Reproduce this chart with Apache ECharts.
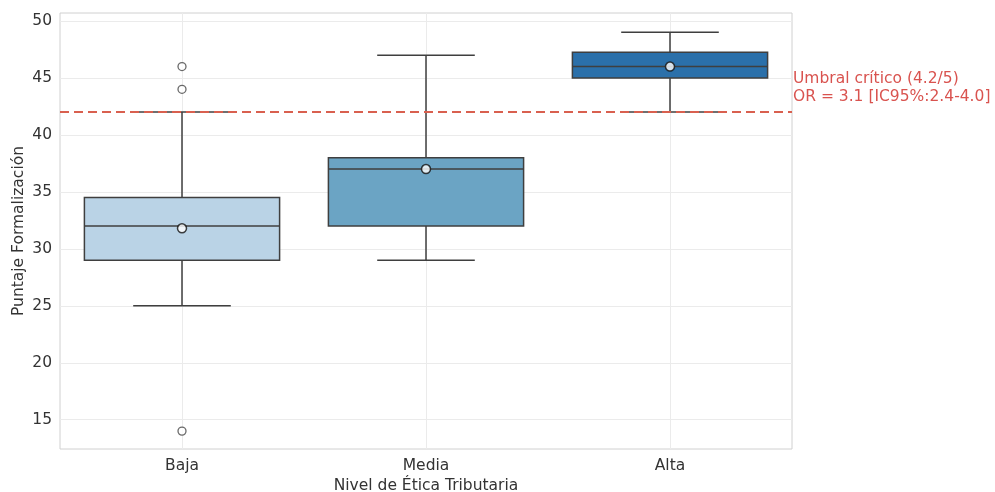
<!DOCTYPE html>
<html>
<head>
<meta charset="utf-8">
<script src="https://cdn.jsdelivr.net/npm/echarts@6/dist/echarts.min.js"></script>
<style>html,body{margin:0;padding:0;background:#fff}#c{width:995px;height:492px}</style>
</head>
<body>
<div id="c"></div>
<script>
// categories
const categories = ['Baja', 'Media', 'Alta'];
// box stats: [whiskerLow, Q1, median, Q3, whiskerHigh]
const boxStats = [
  [25, 29, 32, 34.5, 42],
  [29, 32, 37, 38, 47],
  [42, 45, 46, 47.25, 49]
];
const means = [31.8, 37, 46];
// outliers: [categoryIndex, value]
const outliers = [[0, 46], [0, 44], [0, 14]];
const boxColors = ['#bad3e6', '#6ba4c4', '#2b70aa'];
const yTicks = [15, 20, 25, 30, 35, 40, 45, 50];
const threshold = 42;
const thresholdLabel = ['Umbral crítico (4.2/5)', 'OR = 3.1 [IC95%:2.4-4.0]'];

const FONT = 'DejaVu Sans';
const FS = 15.5;
const chart = echarts.init(document.getElementById('c'));

const boxData = boxStats.map((s, i) => [i].concat(s));

chart.setOption({
  animation: false,
  backgroundColor: '#fff',
  textStyle: { fontFamily: FONT },
  grid: { left: 60, right: 203, top: 13, bottom: 43, outerBoundsMode: 'none', containLabel: false,
          show: true, borderColor: '#d0d0d0', borderWidth: 1 },
  xAxis: {
    type: 'value', min: -0.5, max: 2.5,
    name: 'Nivel de Ética Tributaria', nameLocation: 'middle', nameGap: 29, nameMoveOverlap: false,
    nameTextStyle: { fontFamily: FONT, fontSize: FS, color: '#333' },
    axisLine: { show: false },
    axisTick: { show: false, customValues: [0, 1, 2] },
    axisLabel: { customValues: [0, 1, 2], formatter: v => categories[Math.round(v)] || '', fontFamily: FONT, fontSize: FS, color: '#333', margin: 9 },
    splitLine: { show: true, lineStyle: { color: '#ebebeb', width: 1 } }
  },
  yAxis: {
    type: 'value', min: 12.43, max: 50.7,
    name: 'Puntaje Formalización', nameLocation: 'middle', nameGap: 33, nameRotate: 90, nameMoveOverlap: false,
    nameTextStyle: { fontFamily: FONT, fontSize: FS, color: '#333' },
    axisLine: { show: false },
    axisTick: { show: false, customValues: yTicks },
    axisLabel: { customValues: yTicks, fontFamily: FONT, fontSize: FS, color: '#333', margin: 8 },
    splitLine: { show: true, lineStyle: { color: '#ebebeb', width: 1 } }
  },
  series: [
    {
      type: 'custom',
      data: boxData,
      encode: { x: 0, y: [1, 2, 3, 4, 5] },
      renderItem: function (params, api) {
        const x = api.value(0);
        const lo = api.coord([x, api.value(1)]);
        const q1 = api.coord([x, api.value(2)]);
        const md = api.coord([x, api.value(3)]);
        const q3 = api.coord([x, api.value(4)]);
        const hi = api.coord([x, api.value(5)]);
        const bw = api.size([0.8, 0])[0];
        const cw = api.size([0.4, 0])[0];
        const cx = lo[0];
        const ls = { stroke: '#3f3f3f', lineWidth: 1.5 };
        return {
          type: 'group',
          children: [
            { type: 'line', shape: { x1: cx, y1: q1[1], x2: cx, y2: lo[1] }, style: ls },
            { type: 'line', shape: { x1: cx, y1: q3[1], x2: cx, y2: hi[1] }, style: ls },
            { type: 'line', shape: { x1: cx - cw / 2, y1: lo[1], x2: cx + cw / 2, y2: lo[1] }, style: ls },
            { type: 'line', shape: { x1: cx - cw / 2, y1: hi[1], x2: cx + cw / 2, y2: hi[1] }, style: ls },
            { type: 'rect', shape: { x: cx - bw / 2, y: q3[1], width: bw, height: q1[1] - q3[1] },
              style: { fill: boxColors[params.dataIndex], stroke: '#3f3f3f', lineWidth: 1.5 } },
            { type: 'line', shape: { x1: cx - bw / 2, y1: md[1], x2: cx + bw / 2, y2: md[1] }, style: ls }
          ]
        };
      },
      markLine: {
        silent: true, symbol: 'none',
        lineStyle: { color: '#d9604f', type: [9, 5], width: 2 },
        label: { show: false },
        data: [{ yAxis: threshold }]
      },
      z: 2
    },
    {
      type: 'scatter',
      data: outliers,
      symbol: 'circle', symbolSize: 8,
      itemStyle: { color: '#fff', borderColor: '#444', borderWidth: 1.3 },
      z: 3
    },
    {
      type: 'scatter',
      data: means.map((m, i) => [i, m]),
      symbol: 'circle', symbolSize: 9,
      itemStyle: { color: '#fff', borderColor: '#111', borderWidth: 1.5 },
      z: 4
    }
  ],
  graphic: [
    {
      type: 'text', left: 793, top: 70,
      style: { text: thresholdLabel.join('\n'), fill: '#d9534f', font: FS + 'px "DejaVu Sans"', lineHeight: 18 }
    }
  ]
});
</script>
</body>
</html>
